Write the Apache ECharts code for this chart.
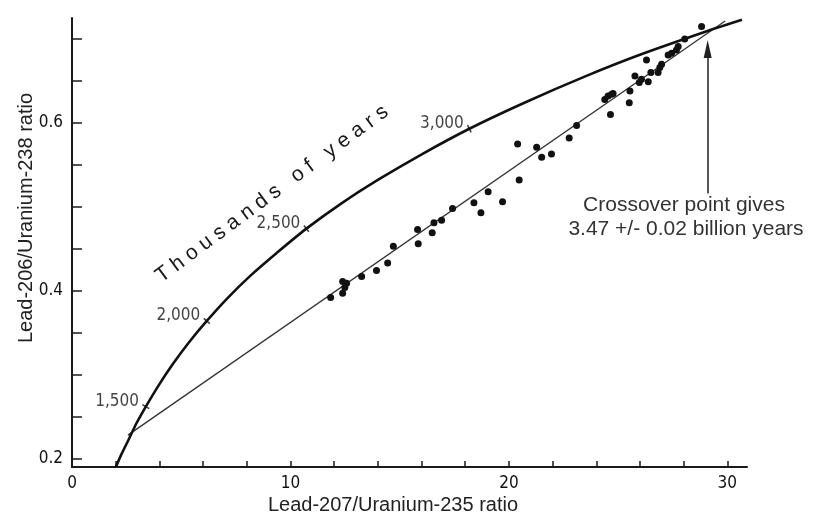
<!DOCTYPE html>
<html>
<head>
<meta charset="utf-8">
<script src="https://cdn.jsdelivr.net/npm/echarts@6/dist/echarts.min.js"></script>
<style>
html,body{margin:0;padding:0;background:#fff;}
#chart{width:822px;height:518px;}
</style>
</head>
<body>
<div id="chart"></div>
<script>
// Concordia curve
const concordiaX = [2.01, 2.26, 2.60, 2.97, 3.38, 3.96, 4.60, 5.34, 6.17, 7.11, 8.17, 9.37, 10.73, 12.27, 14.00, 15.97, 18.19, 20.71, 23.55, 26.09, 29.49, 30.67];
const concordiaY = [0.190, 0.205, 0.223, 0.243, 0.262, 0.287, 0.312, 0.338, 0.364, 0.391, 0.418, 0.445, 0.474, 0.503, 0.532, 0.562, 0.593, 0.624, 0.656, 0.682, 0.713, 0.723];

// Age marks on the curve (thousands of years)
const ageLabels = ['1,500', '2,000', '2,500', '3,000'];
const ageX = [3.38, 6.17, 10.73, 18.19];
const ageY = [0.262, 0.364, 0.474, 0.593];
const ageAngle = [60, 49, 37, 27];

// Best-fit (discordia) line
const lineX = [2.56, 29.9];
const lineY = [0.228, 0.7215];

// Sample points
const sampleX = [11.84, 12.39, 12.57, 12.49, 12.39, 13.26, 13.94, 14.45, 14.71, 15.82, 15.85, 16.49, 16.57, 16.92, 17.42, 18.40, 18.72, 19.05, 19.71, 20.47, 20.40, 21.27, 21.50, 21.95, 22.76, 23.10, 24.39, 24.54, 24.70, 24.77, 24.65, 25.51, 25.54, 25.77, 25.97, 26.07, 26.30, 26.38, 26.50, 26.83, 26.91, 26.99, 27.29, 27.45, 27.67, 27.75, 28.05, 28.82];
const sampleY = [0.392, 0.411, 0.409, 0.404, 0.397, 0.417, 0.424, 0.433, 0.453, 0.473, 0.456, 0.469, 0.481, 0.484, 0.498, 0.505, 0.493, 0.518, 0.506, 0.532, 0.575, 0.571, 0.559, 0.563, 0.582, 0.597, 0.628, 0.632, 0.634, 0.635, 0.610, 0.624, 0.638, 0.656, 0.648, 0.652, 0.675, 0.649, 0.660, 0.660, 0.666, 0.670, 0.681, 0.683, 0.687, 0.691, 0.700, 0.715];

// Arrow to crossover point
const arrowX = 29.1;
const arrowY = [0.516, 0.688];

// Axis ticks / labels
const xTicks = [0, 2, 4, 6, 8, 10, 12, 14, 16, 18, 20, 22, 24, 26, 28, 30];
const xLabels = [0, 10, 20, 30];
const yTicks = [0.2, 0.25, 0.3, 0.35, 0.4, 0.45, 0.5, 0.55, 0.6, 0.65, 0.7];
const yLabels = [0.2, 0.4, 0.6];

const narrow = "'DejaVu Sans Condensed', 'Liberation Sans Narrow', 'Liberation Sans', sans-serif";
const sans = "'Liberation Sans', Arial, sans-serif";

const chart = echarts.init(document.getElementById('chart'));
chart.setOption({
  backgroundColor: '#ffffff',
  animation: false,
  grid: { left: 72, right: 75, top: 18, bottom: 51 },
  xAxis: {
    type: 'value', min: 0, max: 30.9,
    splitLine: { show: false },
    axisLine: { onZero: false, lineStyle: { color: '#1a1a1a', width: 2 } },
    axisTick: { customValues: xTicks, inside: true, length: 6, lineStyle: { color: '#1a1a1a', width: 1.5 } },
    axisLabel: { customValues: xLabels, fontFamily: narrow, fontSize: 17, color: '#111', margin: 8 }
  },
  yAxis: {
    type: 'value', min: 0.19, max: 0.725,
    splitLine: { show: false },
    axisLine: { onZero: false, lineStyle: { color: '#1a1a1a', width: 2 } },
    axisTick: { customValues: yTicks, inside: true, length: 10, lineStyle: { color: '#1a1a1a', width: 1.5 } },
    axisLabel: { customValues: yLabels, fontFamily: narrow, fontSize: 17, color: '#111', margin: 9, formatter: v => v.toFixed(1) }
  },
  series: [
    {
      name: 'concordia', type: 'line', smooth: 0.3, showSymbol: false, silent: true,
      data: concordiaX.map((x, i) => [x, concordiaY[i]]),
      lineStyle: { color: '#111', width: 2.6 }, z: 3
    },
    {
      name: 'fit', type: 'line', showSymbol: false, silent: true,
      data: lineX.map((x, i) => [x, lineY[i]]),
      lineStyle: { color: '#333', width: 1.3 }, z: 2
    },
    {
      name: 'samples', type: 'scatter', symbolSize: 7, silent: true,
      data: sampleX.map((x, i) => [x, sampleY[i]]),
      itemStyle: { color: '#111', opacity: 1 }, z: 4,
      markLine: {
        silent: true, animation: false,
        symbol: ['none', 'triangle'], symbolSize: [8, 18],
        label: { show: false },
        lineStyle: { color: '#222', width: 1.5, type: 'solid' },
        data: [[{ coord: [arrowX, arrowY[0]] }, { coord: [arrowX, arrowY[1]] }]]
      }
    },
    {
      name: 'ages', type: 'scatter', symbol: 'rect', symbolSize: [1.6, 8], silent: true,
      data: ageX.map((x, i) => ({ value: [x, ageY[i], ageLabels[i]], symbolRotate: ageAngle[i] })),
      itemStyle: { color: '#111' }, z: 5,
      label: {
        show: true, position: 'left', distance: 3, offset: [0, -5],
        formatter: p => p.value[2],
        fontFamily: narrow, fontSize: 17, color: '#111'
      }
    }
  ],
  graphic: [
    { type: 'text', x: 393, y: 505, style: { text: 'Lead-207/Uranium-235 ratio', font: "20px " + sans, fill: '#222', textAlign: 'center', textVerticalAlign: 'middle' } },
    { type: 'text', x: 26, y: 218, rotation: Math.PI / 2, style: { text: 'Lead-206/Uranium-238 ratio', font: "20px " + sans, fill: '#222', textAlign: 'center', textVerticalAlign: 'middle' } },
    { type: 'text', x: 272, y: 194, rotation: 36.5 * Math.PI / 180, style: { text: 'T h o u s a n d s   o f   y e a r s', font: "21px " + sans, fill: '#1a1a1a', textAlign: 'center', textVerticalAlign: 'middle' } },
    { type: 'text', x: 684, y: 205, style: { text: 'Crossover point gives', font: "21px " + sans, fill: '#333', textAlign: 'center', textVerticalAlign: 'middle' } },
    { type: 'text', x: 686, y: 229, style: { text: '3.47 +/- 0.02 billion years', font: "21px " + sans, fill: '#333', textAlign: 'center', textVerticalAlign: 'middle' } }
  ]
});
</script>
</body>
</html>
